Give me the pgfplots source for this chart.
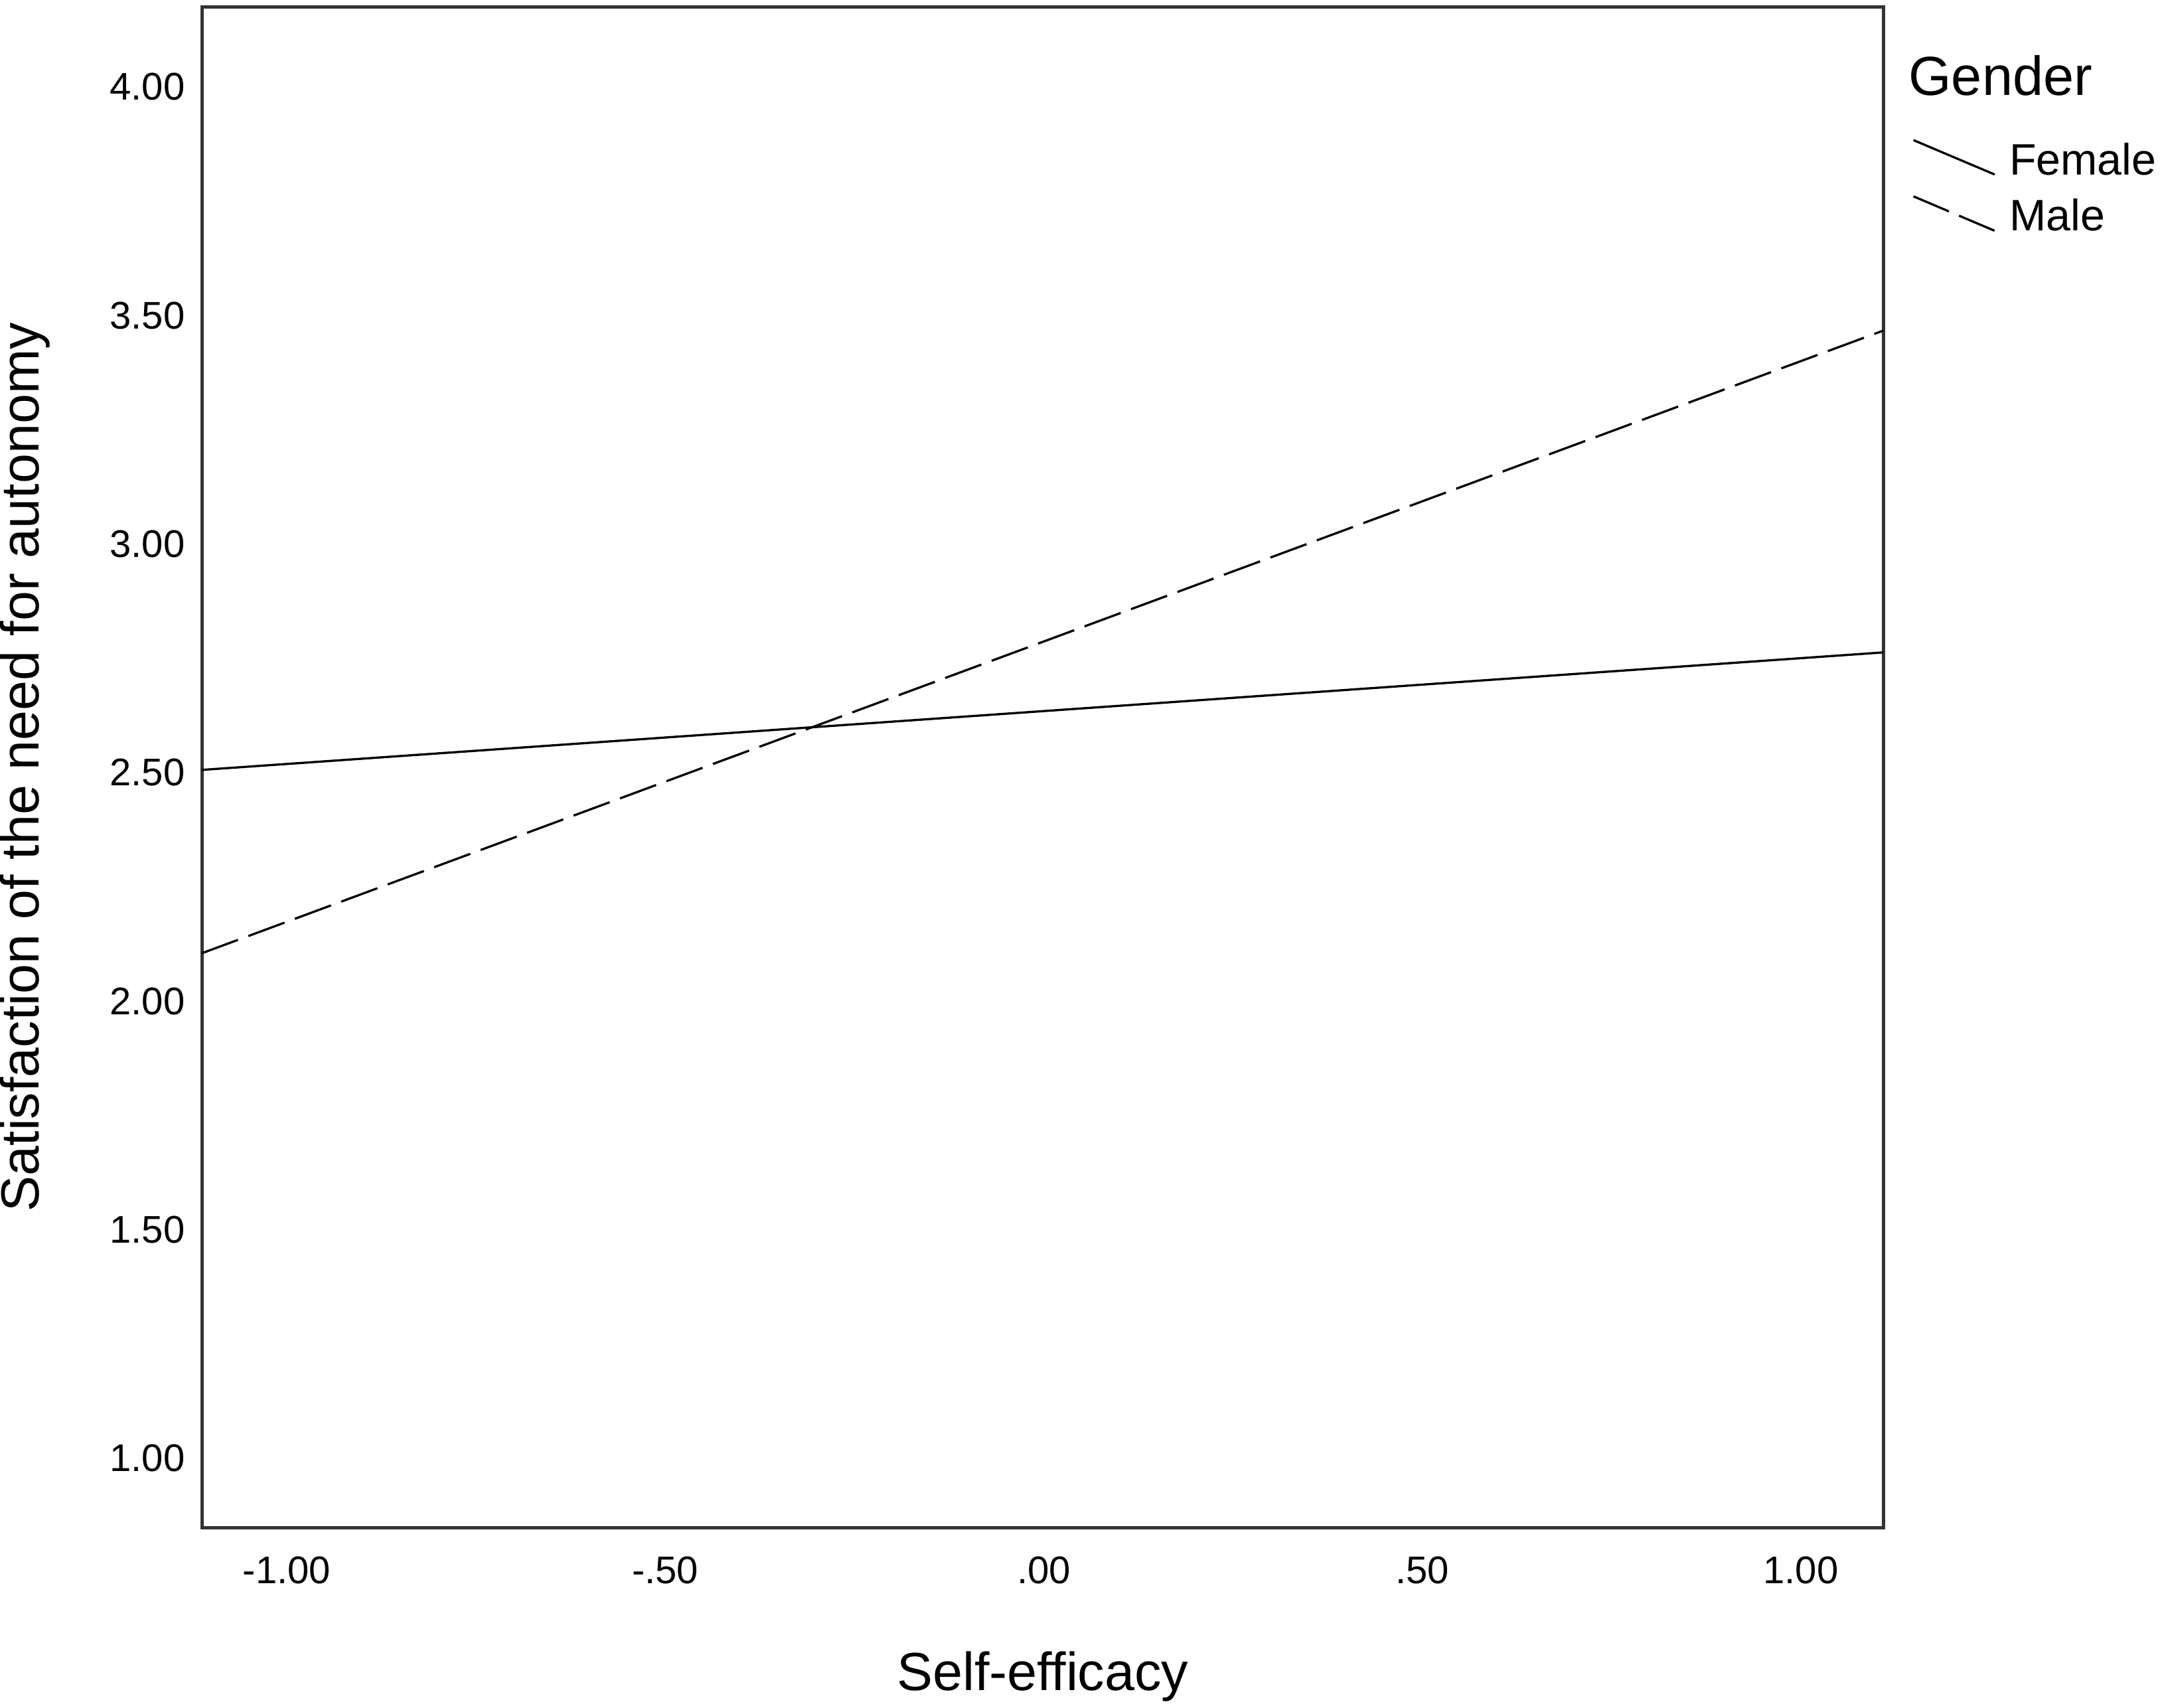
\documentclass[border=0pt]{standalone}
\usepackage{pgfplots}
\pgfplotsset{compat=1.18}
\usepackage{fontspec}
\setmainfont{Liberation Sans}
\begin{document}
\begin{tikzpicture}
\begin{axis}[
  scale only axis,
  width=611bp, height=552.5bp,
  xmin=-1.112, xmax=1.109,
  ymin=0.849, ymax=4.175,
  xtick={-1,-0.5,0,0.5,1},
  xticklabels={-1.00,-.50,.00,.50,1.00},
  ytick={1,1.5,2,2.5,3,3.5,4},
  yticklabels={1.00,1.50,2.00,2.50,3.00,3.50,4.00},
  major tick length=0pt,
  /pgf/number format/assume math mode=true,
  axis line style={black!80, line width=1.2bp},
  tick label style={font=\fontsize{14bp}{16bp}\selectfont, inner sep=0pt},
  xticklabel style={anchor=north, yshift=-10.5bp},
  yticklabel style={anchor=east, xshift=-6bp},
  every axis y label/.style={at={(axis description cs:-0.090,0.5)}, rotate=90, anchor=south, inner sep=0pt},
  every axis x label/.style={at={(axis description cs:0.5,-0.0814)}, anchor=north, inner sep=0pt},
  label style={font=\fontsize{19.5bp}{22bp}\selectfont},
  xlabel={Self-efficacy},
  ylabel={Satisfaction of the need for autonomy},
  clip=false,
  legend style={at={(axis description cs:1.0172,0.9131)}, anchor=north west, draw=none, fill=none,
    inner sep=0pt, outer sep=0pt, row sep=6bp, font=\fontsize{16bp}{18bp}\selectfont,
    nodes={inner sep=0pt, anchor=west}},
  legend cell align=left,
  legend image code/.code={\draw[#1] (0bp,7.5bp) -- (29.5bp,-5bp);},
]
\addplot[black, line width=0.8bp] coordinates {(-1.112,2.506) (1.109,2.763)};
\addlegendentry{\hspace{5bp}Female}
\addplot[black, line width=0.8bp, dash pattern=on 14bp off 4bp] coordinates {(-1.112,2.105) (1.109,3.467)};
\addlegendentry{\hspace{5bp}Male}
\node[anchor=west, inner sep=0pt, font=\fontsize{20bp}{22bp}\selectfont] at (axis description cs:1.0147,0.9548) {Gender};
\end{axis}
\path (current axis.south west) ++(-72.5bp,-65.5bp) rectangle ++(784bp,620.5bp);
\end{tikzpicture}
\end{document}
